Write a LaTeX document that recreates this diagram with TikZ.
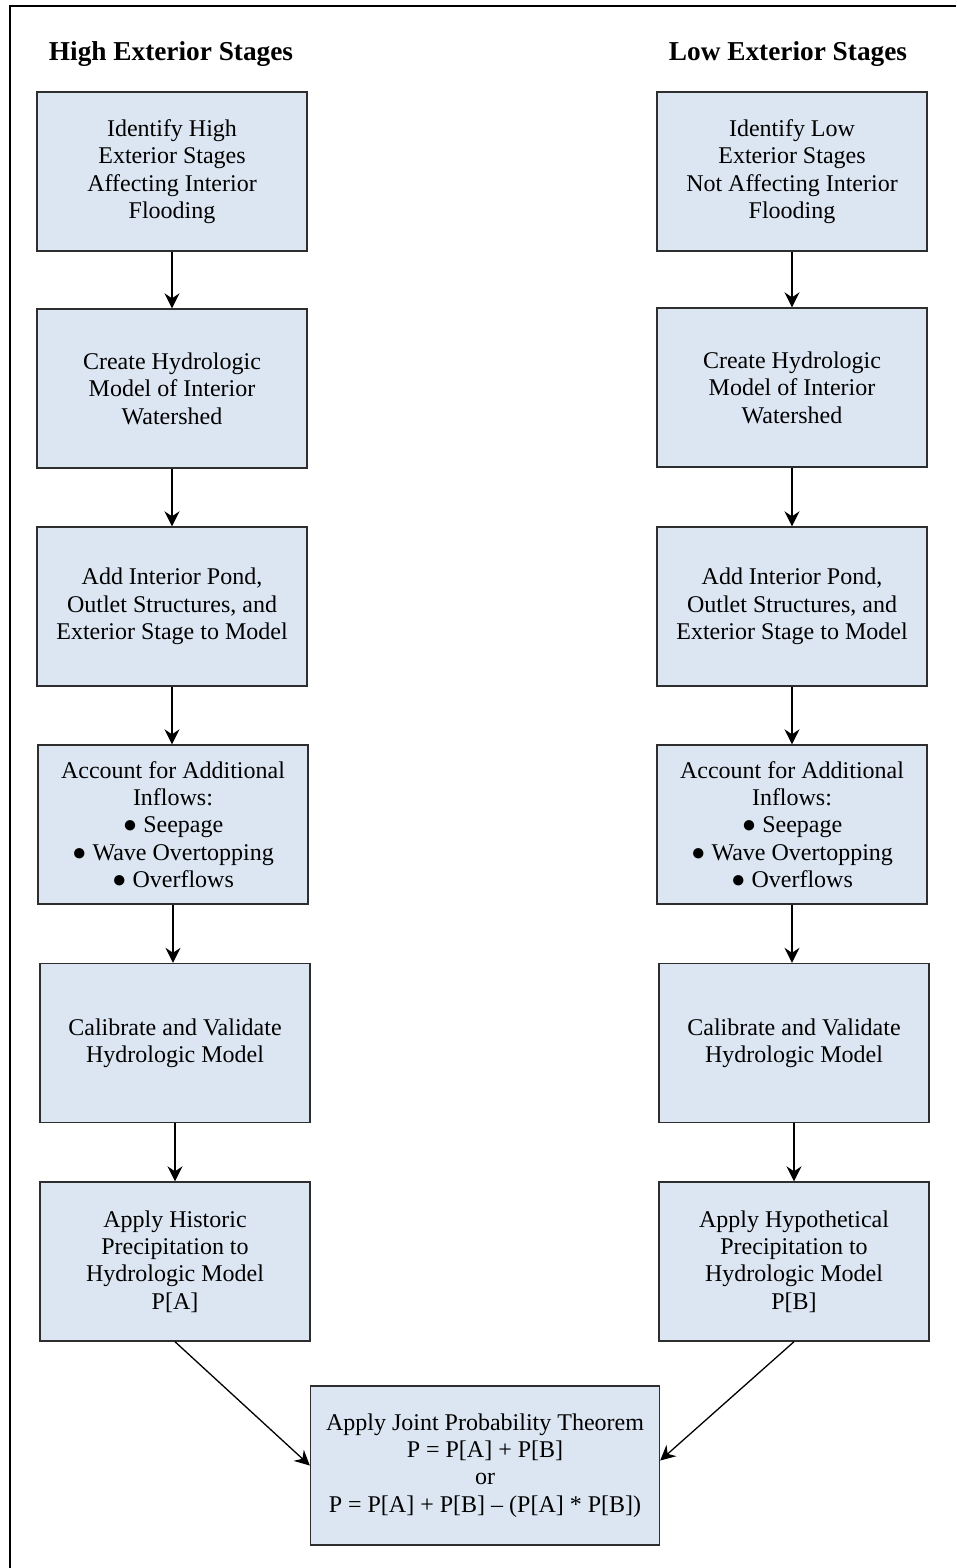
\documentclass[tikz,border=0pt]{standalone}
\usepackage{fontspec}
\setmainfont{Liberation Serif}
\usetikzlibrary{arrows.meta}
\definecolor{boxfill}{HTML}{DCE6F2}
\definecolor{boxline}{HTML}{2E2E2E}
\begin{document}
\begin{tikzpicture}[x=1pt,y=-1pt,
  stepbox/.style={draw=boxline, line width=1.4pt, fill=boxfill, align=center,
    inner sep=0pt, minimum width=270pt, minimum height=159pt,
    font=\fontsize{24}{27.4}\selectfont},
  flow/.style={draw=black, line width=1.3pt, -{Stealth[length=15pt,width=15pt,inset=5pt]}},
  heading/.style={anchor=base, font=\fontsize{27.3}{30}\selectfont\bfseries}
]
\useasboundingbox (0,0) rectangle (956,1568);
% frame lines along the top and left
\draw[line width=2.6pt] (10,1568) -- (10,6) -- (956,6);

% column headings
\node[heading] (hhead) at (171,61) {High Exterior Stages};
\node[heading] (lhead) at (788,61) {Low Exterior Stages};

% high exterior stage column
\node[stepbox] (h1) at (172,171.5) {Identify High\\Exterior Stages\\Affecting Interior\\Flooding};
\node[stepbox] (h2) at (172,388.5) {Create Hydrologic\\Model of Interior\\Watershed};
\node[stepbox] (h3) at (172,606.5) {Add Interior Pond,\\Outlet Structures, and\\Exterior Stage to Model};
\node[stepbox] (h4) at (173,824.5) {Account for Additional\\Inflows:\\● Seepage\\● Wave Overtopping\\● Overflows};
\node[stepbox] (h5) at (175,1043) {Calibrate and Validate\\Hydrologic Model};
\node[stepbox] (h6) at (175,1261.5) {Apply Historic\\Precipitation to\\Hydrologic Model\\P[A]};

% low exterior stage column
\node[stepbox] (l1) at (792,171.5) {Identify Low\\Exterior Stages\\Not Affecting Interior\\Flooding};
\node[stepbox] (l2) at (792,387.5) {Create Hydrologic\\Model of Interior\\Watershed};
\node[stepbox] (l3) at (792,606.5) {Add Interior Pond,\\Outlet Structures, and\\Exterior Stage to Model};
\node[stepbox] (l4) at (792,824.5) {Account for Additional\\Inflows:\\● Seepage\\● Wave Overtopping\\● Overflows};
\node[stepbox] (l5) at (794,1043) {Calibrate and Validate\\Hydrologic Model};
\node[stepbox] (l6) at (794,1261.5) {Apply Hypothetical\\Precipitation to\\Hydrologic Model\\P[B]};

% combined result
\node[stepbox, minimum width=349pt] (joint) at (485,1465.5)
  {Apply Joint Probability Theorem\\P = P[A] + P[B]\\or\\P = P[A] + P[B] – (P[A] * P[B])};

% connectors
\foreach \a/\b in {h1/h2,h2/h3,h3/h4,h4/h5,h5/h6,l1/l2,l2/l3,l3/l4,l4/l5,l5/l6}
  \draw[flow] (\a.south) -- (\a.south |- \b.north);
\draw[flow] (h6.south) -- (joint.west);
\draw[flow] (l6.south) -- ([yshift=5pt]joint.east);
\end{tikzpicture}
\end{document}
